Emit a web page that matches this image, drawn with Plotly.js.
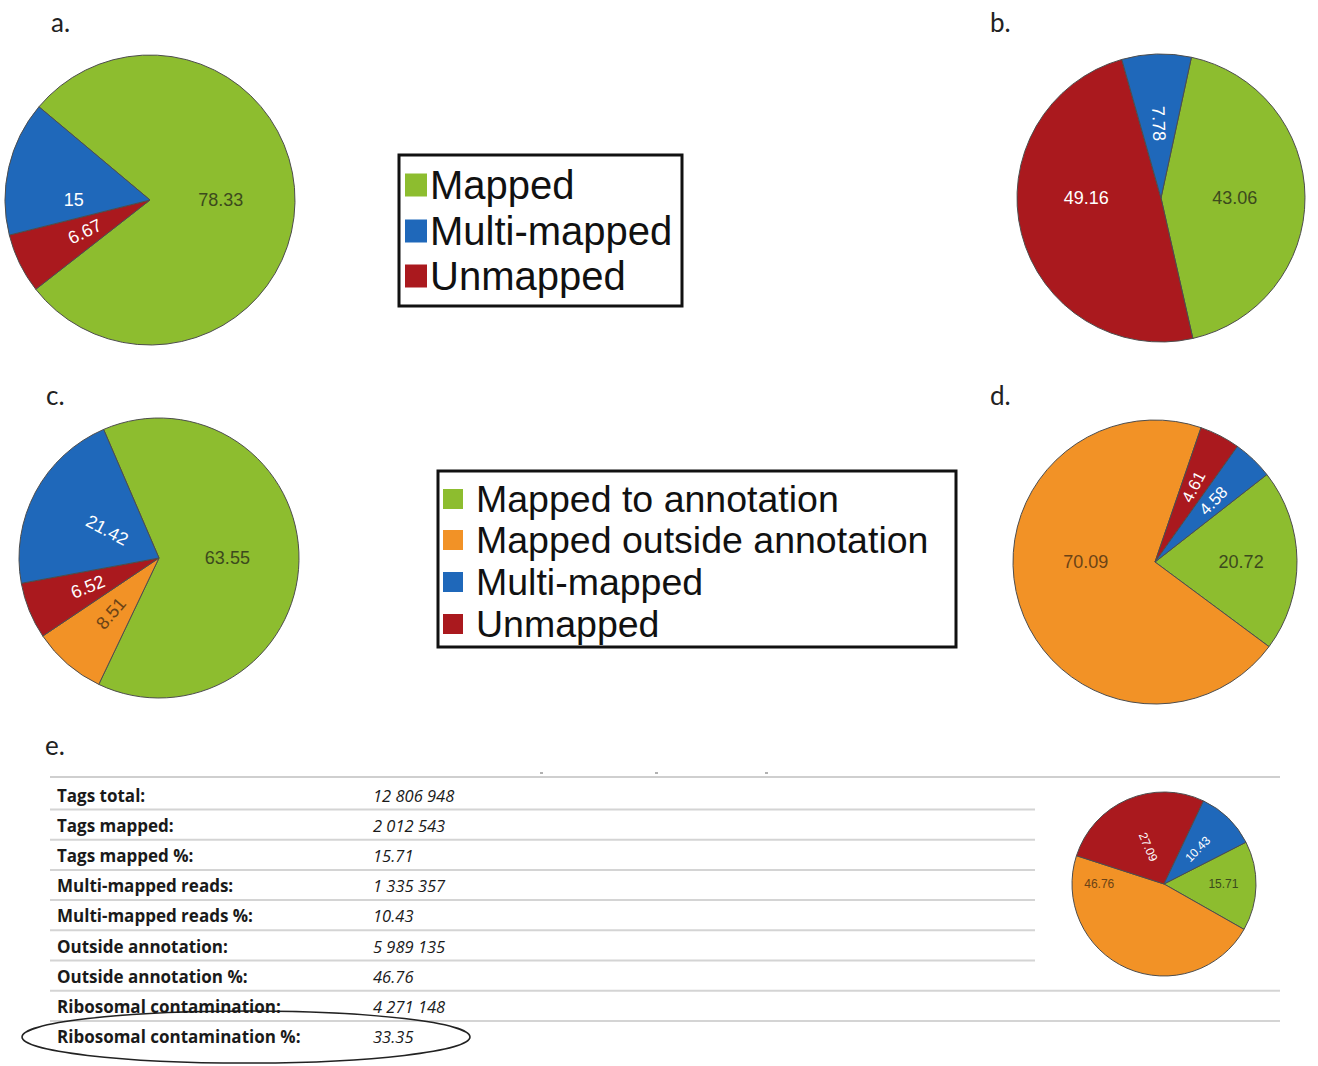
<!DOCTYPE html>
<html>
<head>
<meta charset="utf-8">
<script src="https://cdn.plot.ly/plotly-3.0.1.min.js"></script>
<style>html,body{margin:0;padding:0;background:#fff;}#chart{width:1318px;height:1066px;}</style>
</head>
<body>
<div id="chart"></div>
<script>
// ---------- data ----------
const categoriesABC3 = ['Mapped', 'Multi-mapped', 'Unmapped'];
const categories4 = ['Mapped to annotation', 'Mapped outside annotation', 'Multi-mapped', 'Unmapped'];

const valuesA = [78.33, 15, 6.67];          // Mapped, Multi-mapped, Unmapped
const valuesB = [43.06, 7.78, 49.16];
const valuesC = [63.55, 8.51, 21.42, 6.52]; // to annotation, outside, multi, unmapped
const valuesD = [20.72, 70.09, 4.58, 4.61];
const valuesE = [15.71, 46.76, 10.43, 27.09];

const tableLabels = ['Tags total:', 'Tags mapped:', 'Tags mapped %:', 'Multi-mapped reads:',
  'Multi-mapped reads %:', 'Outside annotation:', 'Outside annotation %:',
  'Ribosomal contamination:', 'Ribosomal contamination %:'];
const tableValues = ['12 806 948', '2 012 543', '15.71', '1 335 357', '10.43',
  '5 989 135', '46.76', '4 271 148', '33.35'];

const panelLetters = ['a.', 'b.', 'c.', 'd.', 'e.'];

// ---------- styles ----------
const W = 1318, H = 1066;
const GREEN = '#8dbd2f', ORANGE = '#f29226', BLUE = '#1f68ba', RED = '#aa191e';
const col3 = [GREEN, BLUE, RED];
const col4 = [GREEN, ORANGE, BLUE, RED];
const txt3 = ['#3c4a1d', '#ffffff', '#ffffff'];
const txt4 = ['#3c4a1d', '#6b4316', '#ffffff', '#ffffff'];
const order3 = [0, 2, 1];      // clockwise drawing order
const order4 = [0, 1, 3, 2];

const X = p => p / W;
const Y = p => 1 - p / H;

// returns two traces: the pie itself and a transparent label pie (smaller radius, factor k)
function pie(cats, vals, cols, tcols, order, cx, cy, r, rot, fs, innerIdx, k) {
  const base = {
    type: 'pie', sort: false, direction: 'clockwise', rotation: rot,
    labels: order.map(i => cats[i]),
    values: order.map(i => vals[i]),
    textposition: 'inside', insidetextorientation: 'radial',
    textfont: {family: 'Liberation Sans, Arial, sans-serif', size: fs, color: order.map(i => tcols[i])},
    hoverinfo: 'none', showlegend: false
  };
  const main = Object.assign({}, base, {
    marker: {colors: order.map(i => cols[i]), line: {color: '#4d4d4d', width: 1}},
    texttemplate: order.map(i => innerIdx.includes(i) ? ' ' : '%{value}'),
    domain: {x: [X(cx - r), X(cx + r)], y: [Y(cy + r), Y(cy - r)]}
  });
  const ri = r * k;
  const lab = Object.assign({}, base, {
    marker: {colors: order.map(() => 'rgba(0,0,0,0)'), line: {width: 0}},
    texttemplate: order.map(i => innerIdx.includes(i) ? '%{value}' : ' '),
    domain: {x: [X(cx - ri), X(cx + ri)], y: [Y(cy + ri), Y(cy - ri)]}
  });
  return [main, lab];
}

const data = [].concat(
  pie(categoriesABC3, valuesA, col3, txt3, order3, 150, 200, 145, 310, 18, [1, 2], 0.64),
  pie(categoriesABC3, valuesB, col3, txt3, order3, 1161, 198, 144, 12.2, 18, [1], 0.68),
  pie(categories4, valuesC, col4, txt4, order4, 159, 558, 140, -23.3, 18, [1, 2, 3], 0.70),
  pie(categories4, valuesD, col4, txt4, order4, 1155, 562, 142, 52, 18, [2, 3], 0.72),
  pie(categories4, valuesE, col4, txt4, order4, 1164, 884, 92, 63, 12, [2, 3], 0.76)
);

const shapes = [];
const annotations = [];

// panel letters
const letterPos = [[60, 22], [1000, 22], [55, 395], [1000, 395], [55, 745]];
panelLetters.forEach((t, i) => {
  annotations.push({xref: 'paper', yref: 'paper', x: X(letterPos[i][0]), y: Y(letterPos[i][1]),
    text: t, showarrow: false, xanchor: 'center', yanchor: 'middle',
    font: {family: 'Lato, Open Sans, sans-serif', size: 26, color: '#222'}});
});

// legends
function legend(cats, cols, box, sq, textX, rowsY, fs) {
  shapes.push({type: 'rect', xref: 'paper', yref: 'paper', x0: X(box[0]), x1: X(box[1]), y0: Y(box[3]), y1: Y(box[2]),
    line: {color: '#111', width: 3}, fillcolor: '#fff', layer: 'below'});
  cats.forEach((c, i) => {
    const yc = rowsY[i];
    shapes.push({type: 'rect', xref: 'paper', yref: 'paper', x0: X(sq[0]), x1: X(sq[1]),
      y0: Y(yc + sq[2] / 2), y1: Y(yc - sq[2] / 2), line: {width: 0}, fillcolor: cols[i]});
    annotations.push({xref: 'paper', yref: 'paper', x: X(textX), y: Y(yc), text: c, showarrow: false,
      xanchor: 'left', yanchor: 'middle', font: {family: 'Liberation Sans, Arial, sans-serif', size: fs, color: '#111'}});
  });
}
legend(categoriesABC3, col3, [399, 682, 155, 306], [405, 427, 23], 428, [185, 231, 276], 40);
legend(categories4, col4, [438, 956, 471, 647], [443, 463, 20], 474, [499, 540, 582, 624], 37.5);

// table
const rowY0 = 795, rowStep = 30.2;
shapes.push({type: 'line', xref: 'paper', yref: 'paper', x0: X(50), x1: X(1280), y0: Y(777), y1: Y(777),
  line: {color: '#cfcfcf', width: 2}});
tableLabels.forEach((t, i) => {
  const y = rowY0 + i * rowStep;
  annotations.push({xref: 'paper', yref: 'paper', x: X(55), y: Y(y), text: '<b>' + t + '</b>', showarrow: false,
    xanchor: 'left', yanchor: 'middle', font: {family: 'Open Sans, sans-serif', size: 17, color: '#1a1a1a'}});
  annotations.push({xref: 'paper', yref: 'paper', x: X(371), y: Y(y), text: '<i>' + tableValues[i] + '</i>', showarrow: false,
    xanchor: 'left', yanchor: 'middle', font: {family: 'Open Sans, sans-serif', size: 16.5, color: '#1a1a1a'}});
  if (i < tableLabels.length - 1) {
    const ly = y + 14.5;
    const xr = (i >= 6) ? 1280 : 1035;
    shapes.push({type: 'line', xref: 'paper', yref: 'paper', x0: X(50), x1: X(xr), y0: Y(ly), y1: Y(ly),
      line: {color: '#d4d4d4', width: 2}});
  }
});
// small dots above the table
[540, 655, 765].forEach(x => {
  shapes.push({type: 'line', xref: 'paper', yref: 'paper', x0: X(x), x1: X(x + 3), y0: Y(773), y1: Y(773),
    line: {color: '#999', width: 1.5}});
});
// ellipse around last row
shapes.push({type: 'circle', xref: 'paper', yref: 'paper', x0: X(22), x1: X(470), y0: Y(1063), y1: Y(1011),
  line: {color: '#222', width: 1.5}});

const layout = {
  width: W, height: H, margin: {l: 0, r: 0, t: 0, b: 0},
  paper_bgcolor: '#ffffff', plot_bgcolor: '#ffffff',
  showlegend: false, shapes: shapes, annotations: annotations
};

Plotly.newPlot('chart', data, layout, {displayModeBar: false, staticPlot: true});
</script>
</body>
</html>
